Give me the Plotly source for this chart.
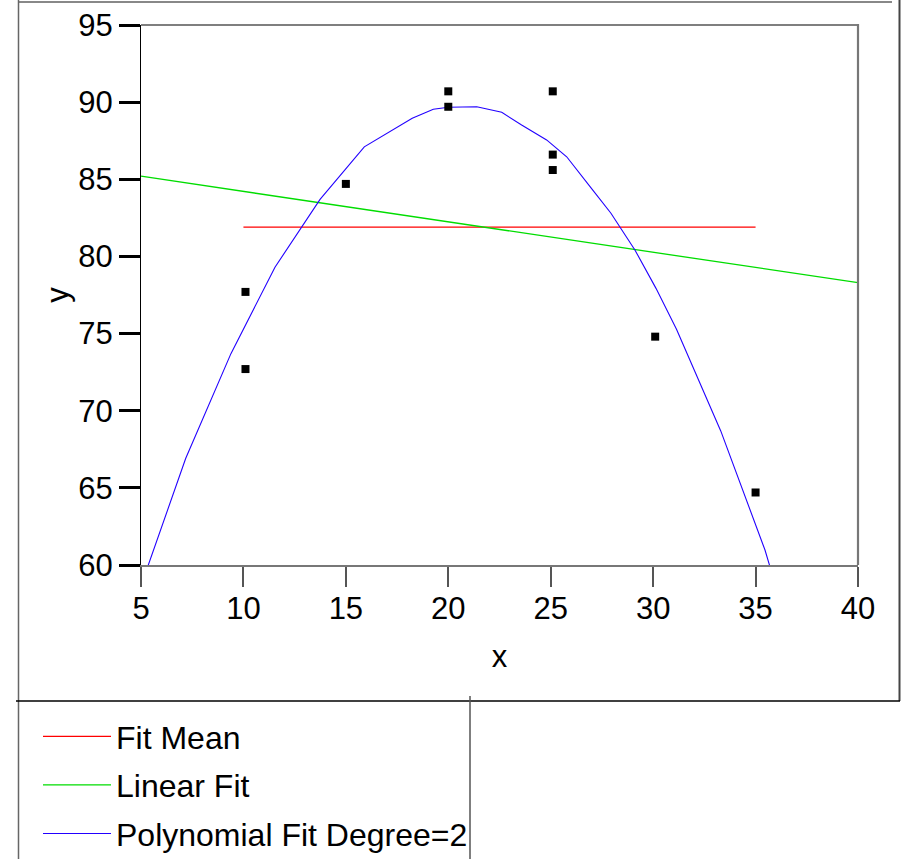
import plotly.graph_objects as go

# ---- data ----
pts_x = [10.1, 10.1, 15.0, 20.0, 20.0, 25.1, 25.1, 25.1, 30.1, 35.0]
pts_y = [77.7, 72.7, 84.7, 90.7, 89.7, 90.7, 86.6, 85.6, 74.8, 64.7]

mean_x = [10.0, 35.0]
mean_y = [81.9, 81.9]

lin_x = [5.0, 40.0]
lin_y = [85.2, 78.3]

poly_x = [5.33, 7.18, 9.39, 11.54, 13.74, 15.90, 18.24, 19.27, 20.00, 21.39,
          22.61, 23.58, 24.80, 25.78, 26.92, 27.94, 29.11, 30.14, 31.14, 33.30,
          35.46, 35.74]
poly_y = [59.9, 66.9, 73.7, 79.3, 83.7, 87.1, 88.95, 89.54, 89.67, 89.70,
          89.34, 88.52, 87.55, 86.46, 84.52, 82.80, 80.42, 77.93, 75.28, 68.69,
          60.97, 59.72]

x_ticks = [5, 10, 15, 20, 25, 30, 35, 40]
y_ticks = [60, 65, 70, 75, 80, 85, 90, 95]

W, H = 902, 859
L, R, T, B = 141, 858, 25, 565
FONT = "Liberation Sans, Arial, sans-serif"


def px(xp):
    return (xp - L) / (R - L)


def py(yp):
    return (B - yp) / (B - T)


fig = go.Figure()
fig.add_trace(go.Scatter(x=mean_x, y=mean_y, mode="lines", name="Fit Mean",
                         line=dict(color="#ff0000", width=1.3), legendgroup="a"))
fig.add_trace(go.Scatter(x=lin_x, y=lin_y, mode="lines", name="Linear Fit",
                         line=dict(color="#00dd00", width=1.3), legendgroup="b"))
fig.add_trace(go.Scatter(x=poly_x, y=poly_y, mode="lines", name="Polynomial Fit Degree=2",
                         line=dict(color="#2200ff", width=1.1), legendgroup="c"))
fig.add_trace(go.Scatter(x=pts_x, y=pts_y, mode="markers", showlegend=False,
                         marker=dict(symbol="square", size=8, color="black")))

shapes = []


def seg(x0, y0, x1, y1, color, width):
    shapes.append(dict(type="line", xref="paper", yref="paper",
                       x0=px(x0), y0=py(y0), x1=px(x1), y1=py(y1),
                       line=dict(color=color, width=width), layer="above"))


# plot frame (top black thin, right gray thick)
seg(L, T, R, T, "black", 1.2)
seg(R, T - 1, R, B, "#777777", 2.2)
# outer frame lines
seg(18, 2, 892, 2, "#888888", 2)
seg(18.5, 0, 18.5, H, "#666666", 1.5)
seg(899.5, 0, 899.5, 701, "#444444", 2)
seg(16, 701, 900, 701, "black", 1.5)
seg(470, 696, 470, H, "#555555", 1.5)

fig.update_layout(
    width=W, height=H,
    margin=dict(l=L, r=W - R, t=T, b=H - B, pad=0, autoexpand=False),
    paper_bgcolor="white", plot_bgcolor="white",
    font=dict(family=FONT, size=31, color="black"),
    shapes=shapes,
    showlegend=True,
    legend=dict(x=px(38), y=py(709), xanchor="left", yanchor="top",
                bgcolor="rgba(0,0,0,0)", borderwidth=0, itemwidth=68,
                tracegroupgap=4, font=dict(family=FONT, size=32, color="black")),
    xaxis=dict(range=[5, 40], tickvals=x_ticks, ticks="outside", ticklen=20,
               tickwidth=2, tickcolor="#555555", showline=True, linecolor="#777777",
               linewidth=2, showgrid=False, zeroline=False, ticklabelstandoff=-5,
               title=dict(text="x", standoff=20, font=dict(size=31)),
               tickfont=dict(size=31), automargin=False),
    yaxis=dict(range=[60, 95], tickvals=y_ticks, ticks="outside", ticklen=21,
               tickwidth=3, tickcolor="black", showline=True, linecolor="black",
               linewidth=1.2, showgrid=False, zeroline=False,
               title=dict(text="y", standoff=0, font=dict(size=31)),
               tickfont=dict(size=31), automargin=False),
)

fig.write_html("out.html")
